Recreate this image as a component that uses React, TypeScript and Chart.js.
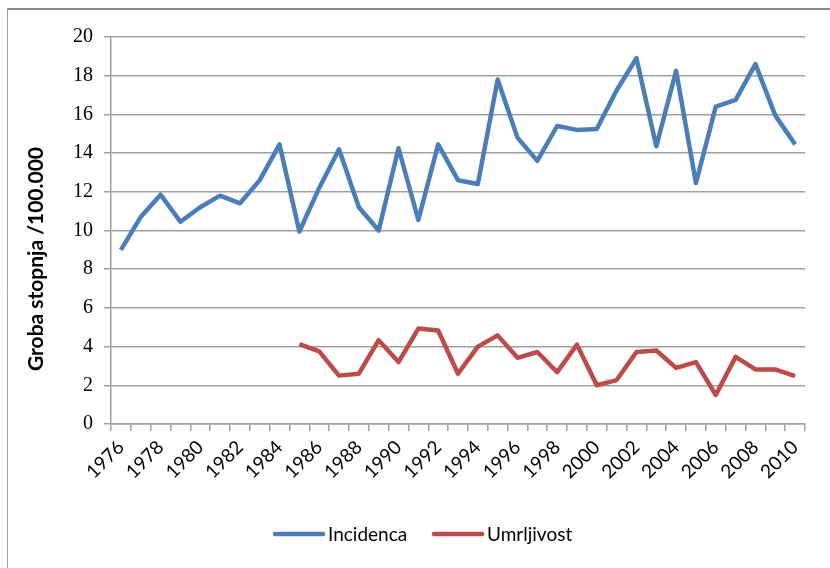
import React, { useEffect, useRef } from 'react';
import { Chart, registerables } from 'chart.js';

Chart.register(...registerables);

const years = [
  '1976', '1977', '1978', '1979', '1980', '1981', '1982', '1983', '1984', '1985',
  '1986', '1987', '1988', '1989', '1990', '1991', '1992', '1993', '1994', '1995',
  '1996', '1997', '1998', '1999', '2000', '2001', '2002', '2003', '2004', '2005',
  '2006', '2007', '2008', '2009', '2010',
];

const incidenca = [
  9.0, 10.7, 11.85, 10.45, 11.2, 11.8, 11.4, 12.6, 14.45, 9.95,
  12.2, 14.2, 11.2, 10.0, 14.25, 10.55, 14.45, 12.6, 12.4, 17.8,
  14.8, 13.6, 15.4, 15.2, 15.25, 17.25, 18.9, 14.35, 18.25, 12.45,
  16.4, 16.75, 18.6, 15.95, 14.45,
];

const umrljivost: (number | null)[] = [
  null, null, null, null, null, null, null, null, null, 4.13,
  3.75, 2.5, 2.6, 4.33, 3.2, 4.93, 4.83, 2.6, 4.0, 4.58,
  3.42, 3.72, 2.68, 4.1, 2.0, 2.27, 3.72, 3.8, 2.9, 3.2,
  1.5, 3.47, 2.82, 2.82, 2.47,
];

const yTickValues = [0, 2, 4, 6, 8, 10, 12, 14, 16, 18, 20];

const seriesNames = ['Incidenca', 'Umrljivost'];
const seriesColors = ['#4a7ebb', '#be4b48'];
const yTitle = 'Groba stopnja /100.000';

const W = 830;
const H = 568;

const decorPlugin = {
  id: 'decor',
  beforeDraw(chart: any) {
    const ctx = chart.ctx;
    ctx.save();
    ctx.fillStyle = '#ffffff';
    ctx.fillRect(0, 0, chart.width, chart.height);
    ctx.restore();
  },
  afterDraw(chart: any) {
    const ctx = chart.ctx;
    ctx.save();
    // frame
    ctx.strokeStyle = '#8c8c8c';
    ctx.lineWidth = 2;
    ctx.beginPath();
    ctx.moveTo(7, 9);
    ctx.lineTo(W, 9);
    ctx.stroke();
    ctx.lineWidth = 1;
    ctx.strokeStyle = '#a0a0a0';
    ctx.beginPath();
    ctx.moveTo(7.5, 9);
    ctx.lineTo(7.5, H);
    ctx.stroke();

    // y title
    ctx.save();
    ctx.translate(36, 259);
    ctx.rotate(-Math.PI / 2);
    ctx.fillStyle = '#000';
    ctx.font = 'bold 21px Lato';
    ctx.textAlign = 'center';
    ctx.textBaseline = 'middle';
    ctx.fillText(yTitle, 0, 0);
    ctx.restore();

    // legend
    const items = [
      { x: 275, label: seriesNames[0], color: seriesColors[0] },
      { x: 434, label: seriesNames[1], color: seriesColors[1] },
    ];
    const ly = 534;
    ctx.font = '19px Lato';
    ctx.textBaseline = 'middle';
    ctx.textAlign = 'left';
    items.forEach((it) => {
      ctx.strokeStyle = it.color;
      ctx.lineWidth = 4.5;
      ctx.lineCap = 'round';
      ctx.beginPath();
      ctx.moveTo(it.x, ly);
      ctx.lineTo(it.x + 48, ly);
      ctx.stroke();
      ctx.fillStyle = '#000';
      ctx.fillText(it.label, it.x + 53, ly + 1);
    });
    ctx.restore();
  },
};

export default function App() {
  const ref = useRef<HTMLCanvasElement | null>(null);

  useEffect(() => {
    document.body.style.margin = '0';
    const canvas = ref.current;
    if (!canvas) return;
    const chart = new Chart(canvas, {
      type: 'line',
      data: {
        labels: years,
        datasets: [
          {
            label: seriesNames[0],
            data: incidenca,
            borderColor: seriesColors[0],
            backgroundColor: seriesColors[0],
            borderWidth: 4.5,
            pointRadius: 0,
            tension: 0,
            borderJoinStyle: 'round',
          },
          {
            label: seriesNames[1],
            data: umrljivost,
            borderColor: seriesColors[1],
            backgroundColor: seriesColors[1],
            borderWidth: 4.5,
            pointRadius: 0,
            tension: 0,
            spanGaps: false,
            borderJoinStyle: 'round',
          },
        ],
      },
      options: {
        responsive: false,
        animation: false,
        devicePixelRatio: 1,
        layout: { padding: { left: 0, top: 37, right: 25, bottom: 43 } },
        plugins: {
          legend: { display: false },
          tooltip: { enabled: false },
          title: { display: false },
        },
        scales: {
          x: {
            type: 'category',
            offset: true,
            grid: {
              display: true,
              offset: true,
              drawOnChartArea: false,
              drawTicks: true,
              tickLength: 7,
              color: '#a0a0a0',
              lineWidth: 1.5,
            },
            border: { display: true, color: '#a0a0a0', width: 1.5 },
            ticks: {
              autoSkip: false,
              maxRotation: 45,
              minRotation: 45,
              padding: 5,
              color: '#000',
              font: { family: 'Lato', size: 19 },
              callback: (_v: any, i: number) => (i % 2 === 0 ? years[i] : ''),
            },
            afterFit: (s: any) => {
              s.height = 101;
            },
          },
          y: {
            min: 0,
            max: 20,
            afterBuildTicks: (s: any) => {
              s.ticks = yTickValues.map((v) => ({ value: v }));
            },
            grid: {
              color: '#a0a0a0',
              lineWidth: 1.5,
              drawTicks: true,
              tickLength: 7,
            },
            border: { display: true, color: '#a0a0a0', width: 1.5 },
            ticks: {
              padding: 11,
              color: '#000',
              font: { family: 'Liberation Serif', size: 20 },
            },
            afterFit: (s: any) => {
              s.width = 111;
            },
          },
        },
      },
      plugins: [decorPlugin],
    });
    return () => chart.destroy();
  }, []);

  return (
    <div style={{ width: W, height: H, position: 'relative' }}>
      <canvas ref={ref} width={W} height={H} style={{ display: 'block' }} />
    </div>
  );
}
